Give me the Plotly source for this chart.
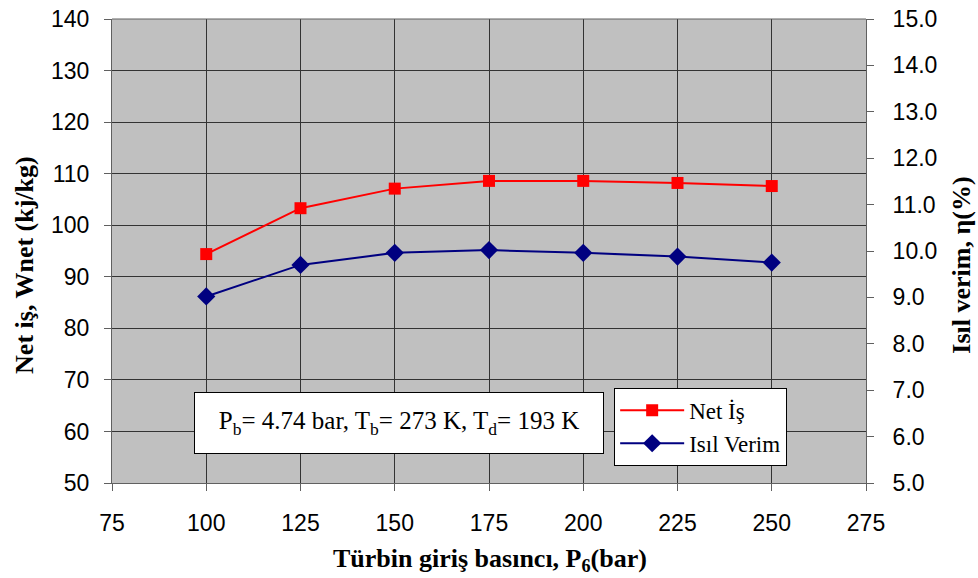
import plotly.graph_objects as go

pressure = [100, 125, 150, 175, 200, 225, 250]
net_work = [94.4, 103.3, 107.1, 108.6, 108.6, 108.2, 107.6]
efficiency = [9.02, 9.70, 9.96, 10.02, 9.96, 9.88, 9.75]

x_ticks = [75, 100, 125, 150, 175, 200, 225, 250, 275]
left_ticks = [50, 60, 70, 80, 90, 100, 110, 120, 130, 140]
right_ticks = [5, 6, 7, 8, 9, 10, 11, 12, 13, 14, 15]

serif = "Liberation Serif"
sans = "Liberation Sans"

fig = go.Figure()
fig.add_trace(go.Scatter(
    x=pressure, y=net_work, name="Net İş", mode="lines+markers",
    line=dict(color="#FF0000", width=2),
    marker=dict(symbol="square", size=12, color="#FF0000"),
    yaxis="y"))
fig.add_trace(go.Scatter(
    x=pressure, y=efficiency, name="Isıl Verim", mode="lines+markers",
    line=dict(color="#000080", width=2),
    marker=dict(symbol="diamond", size=14, color="#000080"),
    yaxis="y2"))

axis_common = dict(ticks="outside", ticklen=7, tickcolor="#606060",
                   showline=True, linecolor="#606060", linewidth=1,
                   zeroline=False, automargin=False,
                   tickfont=dict(family=sans, size=23, color="black"))

fig.update_layout(
    width=978, height=578,
    margin=dict(l=112, r=112, t=19, b=95),
    paper_bgcolor="white", plot_bgcolor="#C0C0C0",
    font=dict(family=sans, size=23, color="black"),
    xaxis=dict(range=[75, 275], tickvals=x_ticks, showgrid=True,
               gridcolor="#333333", gridwidth=1, ticklabelstandoff=12,
               **axis_common),
    yaxis=dict(range=[50, 140], tickvals=left_ticks, showgrid=True,
               gridcolor="#333333", gridwidth=1, ticklabelstandoff=10,
               **axis_common),
    yaxis2=dict(range=[5, 15], tickvals=right_ticks, tickformat=".1f",
                overlaying="y", side="right", showgrid=False,
                ticklabelstandoff=14, **axis_common),
    legend=dict(
        x=0.666, y=0.205, xanchor="left", yanchor="top",
        bgcolor="white", bordercolor="black", borderwidth=1,
        font=dict(family=serif, size=23, color="black"),
        tracegroupgap=0, itemwidth=64,
    ),
    showlegend=True,
)

fig.add_shape(type="line", xref="paper", yref="paper", x0=0, x1=1, y0=1, y1=1,
              line=dict(color="#606060", width=1))

title_font = dict(family=serif, size=26, color="black")
fig.add_annotation(xref="paper", yref="paper", x=0.501, y=-0.165,
                   xanchor="center", yanchor="middle", showarrow=False,
                   text="<b>Türbin giriş basıncı, P<sub>6</sub>(bar)</b>",
                   font=title_font)
fig.add_annotation(xref="paper", yref="paper", x=-0.1154, y=0.47,
                   xanchor="center", yanchor="middle", showarrow=False,
                   textangle=-90, text="<b>Net iş, Wnet (kj/kg)</b>",
                   font=title_font)
fig.add_annotation(xref="paper", yref="paper", x=1.127, y=0.47,
                   xanchor="center", yanchor="middle", showarrow=False,
                   textangle=-90, text="<b>Isıl verim, η(%)</b>",
                   font=title_font)

fig.add_annotation(
    xref="paper", yref="paper", x=0.380, y=0.130, xanchor="center", yanchor="middle",
    text="P<sub>b</sub>= 4.74 bar, T<sub>b</sub>= 273 K, T<sub>d</sub>= 193 K",
    showarrow=False, font=dict(family=serif, size=25, color="black"),
    bgcolor="white", bordercolor="black", borderwidth=1, borderpad=1,
    width=406, height=58,
)

fig.write_html("out.html")
